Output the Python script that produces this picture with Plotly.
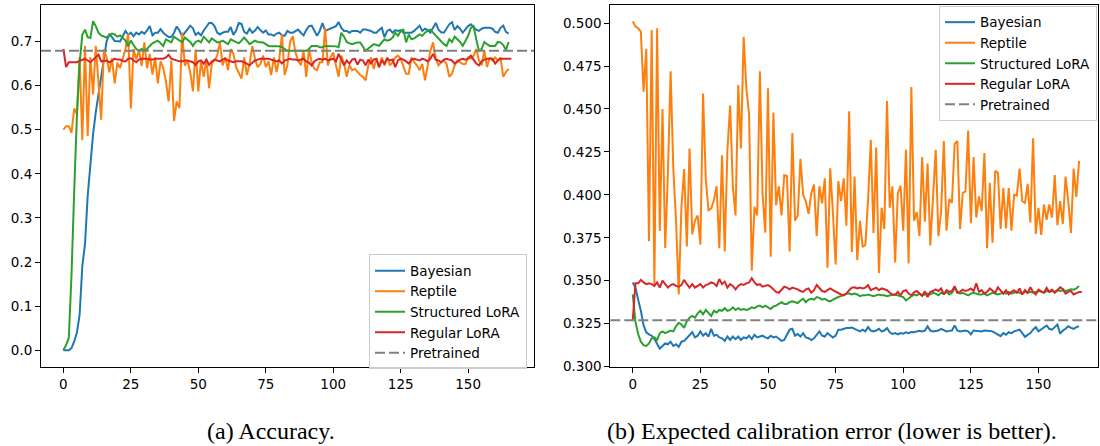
import plotly.graph_objects as go

# ---------------- data ----------------
acc_bayesian = [
    0.000, 0.000, 0.000, 0.005, 0.020, 0.040, 0.080, 0.190, 0.240, 0.350,
    0.430, 0.490, 0.540, 0.580, 0.620, 0.660, 0.700, 0.716, 0.710, 0.701,
    0.700, 0.700, 0.712, 0.724, 0.715, 0.720, 0.712, 0.720, 0.716, 0.722,
    0.718, 0.725, 0.735, 0.714, 0.720, 0.720, 0.728, 0.720, 0.715, 0.710,
    0.710, 0.720, 0.734, 0.725, 0.712, 0.720, 0.728, 0.736, 0.730, 0.715,
    0.720, 0.714, 0.725, 0.733, 0.742, 0.742, 0.735, 0.720, 0.716, 0.720,
    0.722, 0.722, 0.733, 0.715, 0.725, 0.742, 0.740, 0.722, 0.718, 0.729,
    0.720, 0.725, 0.733, 0.726, 0.720, 0.725, 0.716, 0.716, 0.713, 0.718,
    0.720, 0.714, 0.713, 0.724, 0.720, 0.720, 0.724, 0.727, 0.720, 0.714,
    0.726, 0.735, 0.736, 0.724, 0.713, 0.724, 0.742, 0.724, 0.727, 0.729,
    0.733, 0.735, 0.744, 0.731, 0.724, 0.724, 0.720, 0.724, 0.724, 0.724,
    0.720, 0.727, 0.727, 0.726, 0.724, 0.720, 0.720, 0.726, 0.731, 0.710,
    0.724, 0.727, 0.720, 0.726, 0.724, 0.726, 0.720, 0.720, 0.720, 0.720,
    0.724, 0.731, 0.736, 0.724, 0.729, 0.726, 0.720, 0.731, 0.742, 0.727,
    0.721, 0.720, 0.731, 0.739, 0.744, 0.726, 0.735, 0.729, 0.720, 0.727,
    0.735, 0.739, 0.733, 0.727, 0.724, 0.729, 0.731, 0.731, 0.731, 0.729,
    0.722, 0.720, 0.731, 0.736, 0.722, 0.718,
]
acc_reptile = [
    0.500, 0.508, 0.508, 0.493, 0.548, 0.536, 0.665, 0.476, 0.690, 0.486,
    0.665, 0.580, 0.690, 0.600, 0.523, 0.682, 0.665, 0.630, 0.662, 0.605,
    0.652, 0.640, 0.665, 0.683, 0.718, 0.548, 0.683, 0.660, 0.680, 0.645,
    0.698, 0.640, 0.672, 0.625, 0.664, 0.605, 0.655, 0.640, 0.610, 0.564,
    0.657, 0.520, 0.564, 0.549, 0.720, 0.645, 0.657, 0.630, 0.587, 0.682,
    0.587, 0.657, 0.620, 0.661, 0.594, 0.650, 0.657, 0.668, 0.698, 0.646,
    0.664, 0.635, 0.683, 0.672, 0.642, 0.630, 0.616, 0.664, 0.624, 0.650,
    0.690, 0.661, 0.642, 0.649, 0.668, 0.642, 0.655, 0.624, 0.664, 0.631,
    0.661, 0.716, 0.624, 0.646, 0.700, 0.712, 0.675, 0.657, 0.646, 0.679,
    0.620, 0.683, 0.653, 0.638, 0.635, 0.653, 0.653, 0.731, 0.646, 0.664,
    0.675, 0.646, 0.620, 0.668, 0.650, 0.620, 0.646, 0.635, 0.638, 0.631,
    0.624, 0.620, 0.612, 0.646, 0.664, 0.638, 0.661, 0.642, 0.664, 0.646,
    0.664, 0.646, 0.653, 0.664, 0.668, 0.661, 0.646, 0.627, 0.627, 0.664,
    0.653, 0.646, 0.635, 0.649, 0.612, 0.649, 0.679, 0.698, 0.661, 0.646,
    0.653, 0.657, 0.649, 0.620, 0.627, 0.646, 0.657, 0.653, 0.649, 0.649,
    0.664, 0.661, 0.668, 0.683, 0.657, 0.646, 0.679, 0.642, 0.664, 0.657,
    0.664, 0.657, 0.664, 0.620, 0.631, 0.638,
]
acc_structured = [
    0.000, 0.012, 0.028, 0.170, 0.360, 0.530, 0.650, 0.715, 0.727, 0.710,
    0.708, 0.746, 0.735, 0.720, 0.714, 0.711, 0.709, 0.714, 0.718, 0.716,
    0.711, 0.714, 0.707, 0.702, 0.690, 0.702, 0.692, 0.683, 0.679, 0.683,
    0.679, 0.683, 0.690, 0.696, 0.699, 0.702, 0.696, 0.690, 0.705, 0.702,
    0.698, 0.711, 0.707, 0.702, 0.698, 0.709, 0.705, 0.699, 0.690, 0.699,
    0.702, 0.698, 0.711, 0.704, 0.698, 0.707, 0.702, 0.698, 0.699, 0.702,
    0.698, 0.694, 0.705, 0.702, 0.698, 0.696, 0.702, 0.709, 0.702, 0.694,
    0.698, 0.702, 0.699, 0.698, 0.698, 0.694, 0.690, 0.689, 0.689, 0.689,
    0.689, 0.687, 0.683, 0.679, 0.679, 0.679, 0.679, 0.679, 0.679, 0.679,
    0.679, 0.683, 0.690, 0.690, 0.690, 0.687, 0.687, 0.690, 0.690, 0.690,
    0.690, 0.689, 0.687, 0.720, 0.711, 0.699, 0.696, 0.694, 0.696, 0.698,
    0.698, 0.689, 0.679, 0.684, 0.690, 0.694, 0.692, 0.690, 0.698, 0.705,
    0.702, 0.704, 0.709, 0.720, 0.713, 0.724, 0.727, 0.698, 0.716, 0.705,
    0.707, 0.711, 0.716, 0.713, 0.720, 0.724, 0.727, 0.720, 0.713, 0.707,
    0.699, 0.694, 0.690, 0.705, 0.699, 0.711, 0.705, 0.699, 0.690, 0.702,
    0.713, 0.731, 0.735, 0.705, 0.679, 0.683, 0.699, 0.694, 0.690, 0.690,
    0.690, 0.699, 0.698, 0.692, 0.681, 0.699,
]
acc_regular = [
    0.683, 0.642, 0.653, 0.653, 0.653, 0.653, 0.656, 0.659, 0.661, 0.657,
    0.653, 0.659, 0.664, 0.670, 0.655, 0.656, 0.657, 0.653, 0.656, 0.661,
    0.659, 0.659, 0.656, 0.655, 0.661, 0.662, 0.657, 0.653, 0.659, 0.661,
    0.661, 0.661, 0.659, 0.659, 0.661, 0.661, 0.661, 0.661, 0.664, 0.670,
    0.661, 0.659, 0.657, 0.655, 0.655, 0.657, 0.657, 0.655, 0.653, 0.647,
    0.655, 0.657, 0.650, 0.659, 0.647, 0.655, 0.659, 0.657, 0.655, 0.659,
    0.661, 0.657, 0.655, 0.653, 0.655, 0.655, 0.655, 0.653, 0.650, 0.646,
    0.652, 0.657, 0.659, 0.661, 0.661, 0.661, 0.661, 0.659, 0.657, 0.655,
    0.657, 0.650, 0.657, 0.659, 0.661, 0.659, 0.659, 0.657, 0.659, 0.661,
    0.655, 0.652, 0.646, 0.655, 0.659, 0.661, 0.659, 0.661, 0.657, 0.659,
    0.661, 0.655, 0.672, 0.659, 0.646, 0.657, 0.650, 0.659, 0.661, 0.648,
    0.659, 0.657, 0.646, 0.659, 0.650, 0.659, 0.661, 0.642, 0.657, 0.650,
    0.661, 0.657, 0.659, 0.642, 0.657, 0.661, 0.659, 0.655, 0.650, 0.659,
    0.661, 0.659, 0.657, 0.661, 0.659, 0.655, 0.661, 0.672, 0.659, 0.657,
    0.653, 0.659, 0.661, 0.659, 0.657, 0.650, 0.655, 0.659, 0.661, 0.659,
    0.661, 0.668, 0.659, 0.650, 0.646, 0.655, 0.659, 0.661, 0.661, 0.661,
    0.650, 0.657, 0.661, 0.661, 0.661, 0.661, 0.661,
]
acc_pretrained = 0.679

ece_bayesian = [
    0.3490, 0.3460, 0.3390, 0.3325, 0.3240, 0.3200, 0.3188, 0.3180, 0.3160, 0.3135,
    0.3105, 0.3120, 0.3135, 0.3130, 0.3145, 0.3120, 0.3130, 0.3115, 0.3145, 0.3150,
    0.3165, 0.3185, 0.3200, 0.3170, 0.3180, 0.3205, 0.3180, 0.3195, 0.3175, 0.3220,
    0.3180, 0.3185, 0.3170, 0.3165, 0.3150, 0.3175, 0.3155, 0.3175, 0.3160, 0.3175,
    0.3155, 0.3170, 0.3165, 0.3180, 0.3160, 0.3185, 0.3170, 0.3175, 0.3180, 0.3170,
    0.3165, 0.3180, 0.3170, 0.3175, 0.3165, 0.3150, 0.3155, 0.3185, 0.3215, 0.3220,
    0.3180, 0.3190, 0.3175, 0.3195, 0.3170, 0.3165, 0.3155, 0.3165, 0.3185, 0.3205,
    0.3180, 0.3175, 0.3195, 0.3185, 0.3170, 0.3180, 0.3215, 0.3215, 0.3220, 0.3225,
    0.3225, 0.3228, 0.3220, 0.3210, 0.3205, 0.3215, 0.3205, 0.3230, 0.3210, 0.3205,
    0.3210, 0.3220, 0.3205, 0.3210, 0.3225, 0.3200, 0.3190, 0.3195, 0.3188, 0.3195,
    0.3192, 0.3200, 0.3195, 0.3202, 0.3200, 0.3205, 0.3208, 0.3205, 0.3210, 0.3234,
    0.3210, 0.3205, 0.3208, 0.3210, 0.3220, 0.3210, 0.3205, 0.3208, 0.3210, 0.3240,
    0.3210, 0.3205, 0.3208, 0.3210, 0.3205, 0.3188, 0.3210, 0.3208, 0.3210, 0.3205,
    0.3210, 0.3210, 0.3208, 0.3205, 0.3195, 0.3185, 0.3177, 0.3195, 0.3185, 0.3200,
    0.3195, 0.3205, 0.3210, 0.3215, 0.3195, 0.3173, 0.3185, 0.3195, 0.3215, 0.3230,
    0.3205, 0.3215, 0.3225, 0.3239, 0.3220, 0.3215, 0.3230, 0.3245, 0.3192, 0.3210,
    0.3220, 0.3235, 0.3225, 0.3220, 0.3230, 0.3235,
]
ece_reptile = [
    0.501, 0.498, 0.497, 0.495, 0.460, 0.485, 0.373, 0.496, 0.348, 0.497,
    0.379, 0.450, 0.369, 0.413, 0.472, 0.415, 0.385, 0.342, 0.393, 0.415,
    0.370, 0.427, 0.377, 0.385, 0.388, 0.371, 0.459, 0.409, 0.391, 0.392,
    0.397, 0.405, 0.369, 0.423, 0.367, 0.426, 0.452, 0.405, 0.388, 0.464,
    0.427, 0.492, 0.462, 0.447, 0.356, 0.393, 0.388, 0.472, 0.400, 0.378,
    0.462, 0.364, 0.448, 0.394, 0.405, 0.388, 0.4115, 0.411, 0.367, 0.436,
    0.385, 0.388, 0.421, 0.400, 0.396, 0.389, 0.401, 0.406, 0.376, 0.405,
    0.395, 0.4096, 0.3576, 0.4155, 0.3896, 0.3595, 0.408, 0.3963, 0.4096, 0.382,
    0.4486, 0.3668, 0.4106, 0.362, 0.3849, 0.3696, 0.371, 0.3972, 0.432, 0.3778,
    0.4276, 0.3544, 0.3925, 0.3801, 0.4547, 0.3925, 0.4049, 0.3607, 0.401, 0.4052,
    0.3791, 0.4262, 0.3601, 0.4628, 0.3849, 0.390, 0.3759, 0.422, 0.3843, 0.4182,
    0.3706, 0.400, 0.4262, 0.3759, 0.390, 0.4314, 0.3791, 0.3976, 0.3953, 0.4295,
    0.4314, 0.3801, 0.401, 0.402, 0.4375, 0.3835, 0.422, 0.3868, 0.3991, 0.3906,
    0.4243, 0.369, 0.4071, 0.3721, 0.414, 0.4128, 0.3801, 0.404, 0.3805, 0.404,
    0.3791, 0.4001, 0.3995, 0.4153, 0.3963, 0.3953, 0.4064, 0.3839, 0.433, 0.3772,
    0.3925, 0.3767, 0.3944, 0.3854, 0.3944, 0.3868, 0.4115, 0.3824, 0.3963, 0.383,
    0.4106, 0.3963, 0.3778, 0.4153, 0.3988, 0.4197,
]
ece_structured = [
    0.3420, 0.3260, 0.3190, 0.3145, 0.3125, 0.3120, 0.3135, 0.3165, 0.3170, 0.3155,
    0.3195, 0.3205, 0.3195, 0.3205, 0.3210, 0.3205, 0.3235, 0.3255, 0.3245, 0.3225,
    0.3265, 0.3285, 0.3295, 0.3285, 0.3310, 0.3325, 0.3305, 0.3330, 0.3315, 0.3295,
    0.3325, 0.3315, 0.3330, 0.3325, 0.3340, 0.3325, 0.3330, 0.3345, 0.3330, 0.3340,
    0.3330, 0.3335, 0.3330, 0.3335, 0.3345, 0.3340, 0.3350, 0.3355, 0.3345, 0.3355,
    0.3345, 0.3335, 0.3350, 0.3355, 0.3365, 0.3375, 0.3365, 0.3365, 0.3375, 0.3380,
    0.3375, 0.3370, 0.3385, 0.3395, 0.3375, 0.3390, 0.3395, 0.3390, 0.3405, 0.3400,
    0.3390, 0.3395, 0.3385, 0.3380, 0.3390, 0.3400, 0.3405, 0.3410, 0.3420, 0.3425,
    0.3425, 0.3420, 0.3425, 0.3420, 0.3410, 0.3415, 0.3415, 0.3420, 0.3415, 0.3410,
    0.3415, 0.3420, 0.3415, 0.3415, 0.3410, 0.3415, 0.3418, 0.3420, 0.3415, 0.3410,
    0.3405, 0.3385, 0.3395, 0.3410, 0.3420, 0.3415, 0.3425, 0.3415, 0.3420, 0.3425,
    0.3420, 0.3430, 0.3425, 0.3415, 0.3430, 0.3425, 0.3435, 0.3420, 0.3430, 0.3458,
    0.3435, 0.3425, 0.3430, 0.3420, 0.3415, 0.3425, 0.3430, 0.3425, 0.3420, 0.3420,
    0.3425, 0.3415, 0.3425, 0.3430, 0.3425, 0.3420, 0.3425, 0.3430, 0.3425, 0.3435,
    0.3425, 0.3430, 0.3435, 0.3430, 0.3425, 0.3435, 0.3430, 0.3435, 0.3430, 0.3435,
    0.3440, 0.3435, 0.3430, 0.3440, 0.3435, 0.3440, 0.3435, 0.3445, 0.3440, 0.3445,
    0.3440, 0.3445, 0.3450, 0.3448, 0.3455, 0.3470,
]
ece_regular = [
    0.3270, 0.3485, 0.3485, 0.3505, 0.3490, 0.3480, 0.3485, 0.3480, 0.3470, 0.3490,
    0.3460, 0.3500, 0.3480, 0.3460, 0.3475, 0.3480, 0.3470, 0.3465, 0.3475, 0.3505,
    0.3480, 0.3460, 0.3480, 0.3460, 0.3470, 0.3480, 0.3460, 0.3475, 0.3480, 0.3490,
    0.3485, 0.3470, 0.3510, 0.3480, 0.3495, 0.3460, 0.3480, 0.3470, 0.3450, 0.3470,
    0.3480, 0.3475, 0.3485, 0.3490, 0.3515, 0.3490, 0.3475, 0.3480, 0.3465, 0.3470,
    0.3475, 0.3465, 0.3450, 0.3435, 0.3430, 0.3450, 0.3465, 0.3460, 0.3450, 0.3460,
    0.3455, 0.3450, 0.3440, 0.3435, 0.3450, 0.3455, 0.3430, 0.3445, 0.3475, 0.3460,
    0.3440, 0.3435, 0.3445, 0.3455, 0.3445, 0.3435, 0.3430, 0.3420, 0.3415, 0.3425,
    0.3445, 0.3460, 0.3462, 0.3455, 0.3460, 0.3455, 0.3460, 0.3474, 0.3445, 0.3455,
    0.3460, 0.3445, 0.3455, 0.3450, 0.3445, 0.3430, 0.3420, 0.3418, 0.3435, 0.3415,
    0.3440, 0.3445, 0.3425, 0.3415, 0.3432, 0.3440, 0.3425, 0.3412, 0.3438, 0.3405,
    0.3435, 0.3440, 0.3450, 0.3440, 0.3455, 0.3420, 0.3445, 0.3435, 0.3440, 0.3468,
    0.3430, 0.3435, 0.3448, 0.3440, 0.3445, 0.3455, 0.3440, 0.3485, 0.3435, 0.3445,
    0.3425, 0.3435, 0.3455, 0.3445, 0.3430, 0.3462, 0.3445, 0.3425, 0.3445, 0.3420,
    0.3435, 0.3445, 0.3430, 0.3455, 0.3420, 0.3445, 0.3430, 0.3462, 0.3435, 0.3420,
    0.3448, 0.3440, 0.3430, 0.3458, 0.3435, 0.3448, 0.3430, 0.3445, 0.3462, 0.3452,
    0.3425, 0.3435, 0.3440, 0.3420, 0.3430, 0.3435, 0.3435,
]
ece_pretrained = 0.327

series_names = ["Bayesian", "Reptile", "Structured LoRA", "Regular LoRA"]
pretrained_name = "Pretrained"
x_ticks = [0, 25, 50, 75, 100, 125, 150]
acc_ticks = [0.0, 0.1, 0.2, 0.3, 0.4, 0.5, 0.6, 0.7]
ece_ticks = [0.300, 0.325, 0.350, 0.375, 0.400, 0.425, 0.450, 0.475, 0.500]
captions = ["(a) Accuracy.", "(b) Expected calibration error (lower is better)."]

# ---------------- style ----------------
colors = ["#1f77b4", "#ff7f0e", "#2ca02c", "#d62728"]
W, H = 1100, 446
TICK_FONT = dict(family="DejaVu Sans", size=13.5, color="#000000")
LEG_FONT = dict(family="DejaVu Sans", size=13.5, color="#000000")
CAP_FONT = dict(family="Liberation Serif, Times New Roman, serif", size=24, color="#000000")

fig = go.Figure()

acc_series = [acc_bayesian, acc_reptile, acc_structured, acc_regular]
ece_series = [ece_bayesian, ece_reptile, ece_structured, ece_regular]

for i, (name, ys) in enumerate(zip(series_names, acc_series)):
    fig.add_trace(go.Scatter(
        x=list(range(len(ys))), y=ys, mode="lines", name=name,
        line=dict(color=colors[i], width=2), xaxis="x", yaxis="y",
        legend="legend", legendrank=i + 1,
    ))
for i, (name, ys) in enumerate(zip(series_names, ece_series)):
    fig.add_trace(go.Scatter(
        x=list(range(len(ys))), y=ys, mode="lines", name=name,
        line=dict(color=colors[i], width=2), xaxis="x2", yaxis="y2",
        legend="legend2", legendrank=i + 1,
    ))

# pretrained reference lines (horizontal, full axis width)
fig.add_shape(type="line", xref="x domain", yref="y", x0=0, x1=1,
              y0=acc_pretrained, y1=acc_pretrained,
              line=dict(color="#808080", width=2, dash="10px,4px"),
              showlegend=True, name=pretrained_name, legend="legend", legendrank=5)
fig.add_shape(type="line", xref="x2 domain", yref="y2", x0=0, x1=1,
              y0=ece_pretrained, y1=ece_pretrained,
              line=dict(color="#808080", width=2, dash="10px,4px"),
              showlegend=True, name=pretrained_name, legend="legend2", legendrank=5)

axis_common = dict(
    showgrid=False, zeroline=False, showline=True, mirror=True,
    linecolor="#000000", linewidth=1, ticks="outside", ticklen=5,
    tickwidth=1, tickcolor="#000000", tickfont=TICK_FONT,
)

y_dom = [1 - 373.3 / H, 1 - 5 / H]
legend_common = dict(
    bgcolor="rgba(255,255,255,0.8)", bordercolor="#cccccc",
    borderwidth=1, font=LEG_FONT, tracegroupgap=0, itemwidth=30,
)
fig.update_layout(
    width=W, height=H,
    margin=dict(l=0, r=0, t=0, b=0),
    paper_bgcolor="white", plot_bgcolor="white",
    xaxis=dict(domain=[41 / W, 534 / W], range=[-8.3, 174.4],
               tickvals=x_ticks, **axis_common),
    yaxis=dict(domain=y_dom, range=[-0.037, 0.783], tickvals=acc_ticks,
               tickformat=".1f", **axis_common),
    xaxis2=dict(domain=[610.3 / W, 1098 / W], range=[-8.3, 172.0],
                tickvals=x_ticks, anchor="y2", **axis_common),
    yaxis2=dict(domain=y_dom, range=[0.300, 0.5106], tickvals=ece_ticks,
                tickformat=".3f", anchor="x2", **axis_common),
    legend=dict(x=527 / W, y=1 - 259 / H, xanchor="right", yanchor="top",
                **legend_common),
    legend2=dict(x=1097 / W, y=1 - 6 / H, xanchor="right", yanchor="top",
                 **legend_common),
    showlegend=True,
)

fig.add_annotation(text=captions[0], xref="paper", yref="paper",
                   x=271 / W, y=1 - 439 / H, xanchor="center", yanchor="middle",
                   showarrow=False, font=CAP_FONT)
fig.add_annotation(text=captions[1], xref="paper", yref="paper",
                   x=832 / W, y=1 - 439 / H, xanchor="center", yanchor="middle",
                   showarrow=False, font=CAP_FONT)

# remove the default 8px page margin so the figure sits at the window origin
fig.write_html("out.html", config={"displayModeBar": False},
               post_script="document.body.style.margin='0px';")
